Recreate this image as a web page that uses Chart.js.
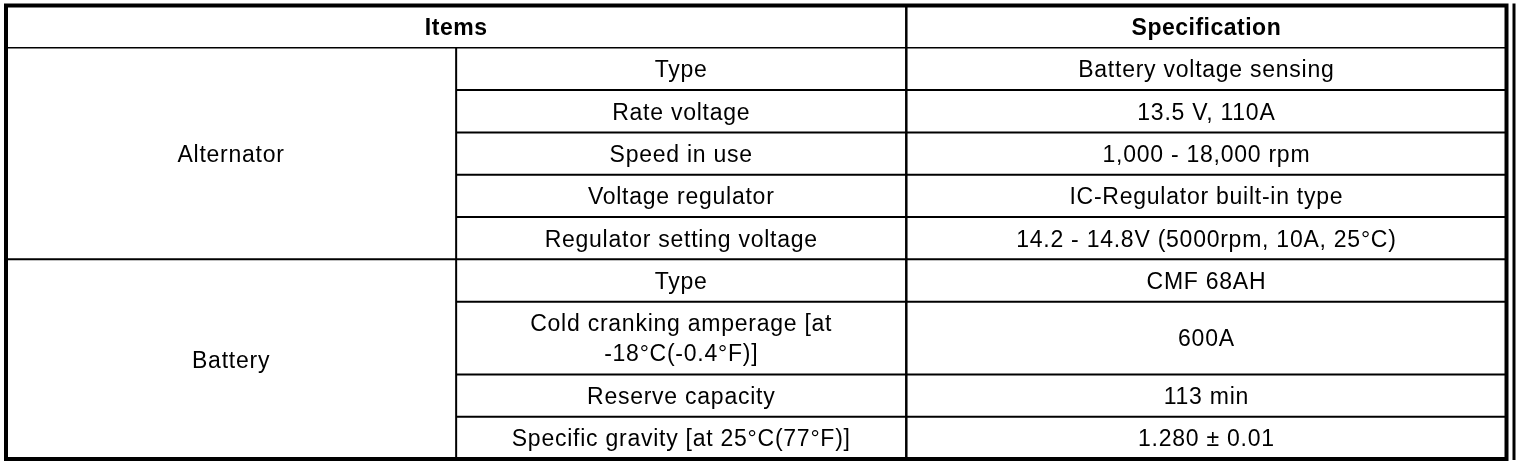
<!DOCTYPE html>
<html>
<head>
<meta charset="utf-8">
<script src="https://cdn.jsdelivr.net/npm/chart.js@4"></script>
<style>
  html, body { margin: 0; padding: 0; background: #fff; }
  canvas { display: block; }
</style>
</head>
<body>
<canvas id="specTable" width="1520" height="466"></canvas>
<script>
{
  // table contents
  const headers = ['Items', 'Specification'];
  const groups = ['Alternator', 'Battery'];
  const groupSizes = [5, 4];
  const items = [
    'Type',
    'Rate voltage',
    'Speed in use',
    'Voltage regulator',
    'Regulator setting voltage',
    'Type',
    ['Cold cranking amperage [at', '-18°C(-0.4°F)]'],
    'Reserve capacity',
    'Specific gravity [at 25°C(77°F)]'
  ];
  const specs = [
    'Battery voltage sensing',
    '13.5 V, 110A',
    '1,000 - 18,000 rpm',
    'IC-Regulator built-in type',
    '14.2 - 14.8V (5000rpm, 10A, 25°C)',
    'CMF 68AH',
    '600A',
    '113 min',
    '1.280 ± 0.01'
  ];

  // layout in table units: columns 3 : 3 : 4, one text line = 1 row unit
  const colEdges = [0, 3, 6, 10];
  const lineCount = (t) => Array.isArray(t) ? t.length : 1;
  const rowHeight = (t) => 1 + 0.72 * (lineCount(t) - 1);

  const rowEdges = [0, 1];
  items.forEach(t => rowEdges.push(rowEdges[rowEdges.length - 1] + rowHeight(t)));
  const total = rowEdges[rowEdges.length - 1];

  // one point per cell (centre), text drawn at the point's pixel position
  const cells = [];
  cells.push({ x: (colEdges[0] + colEdges[2]) / 2, y: 0.5, text: headers[0], bold: true });
  cells.push({ x: (colEdges[2] + colEdges[3]) / 2, y: 0.5, text: headers[1], bold: true });
  let start = 1;
  groups.forEach((g, gi) => {
    const end = start + groupSizes[gi];
    cells.push({ x: (colEdges[0] + colEdges[1]) / 2, y: (rowEdges[start] + rowEdges[end]) / 2, text: g });
    start = end;
  });
  items.forEach((t, i) => {
    const yc = (rowEdges[i + 1] + rowEdges[i + 2]) / 2;
    cells.push({ x: (colEdges[1] + colEdges[2]) / 2, y: yc, text: t });
    cells.push({ x: (colEdges[2] + colEdges[3]) / 2, y: yc, text: specs[i] });
  });

  const groupEnds = [];
  groupSizes.reduce((acc, n) => { groupEnds.push(acc + n); return acc + n; }, 1);

  const tablePlugin = {
    id: 'tablePlugin',
    afterDatasetsDraw(chart) {
      const ctx = chart.ctx;
      const xs = chart.scales.x;
      const ys = chart.scales.y;
      const px = (v) => xs.getPixelForValue(v);
      const py = (v) => ys.getPixelForValue(v);

      const line = (x0, y0, x1, y1, w) => {
        ctx.beginPath();
        ctx.lineWidth = w;
        ctx.moveTo(x0, y0);
        ctx.lineTo(x1, y1);
        ctx.stroke();
      };

      ctx.save();
      ctx.strokeStyle = '#000';
      ctx.lineCap = 'butt';

      // row separators
      line(px(colEdges[0]), py(1), px(colEdges[3]), py(1), 1.5);
      for (let r = 2; r < rowEdges.length - 1; r++) {
        const full = groupEnds.includes(r);
        line(px(full ? colEdges[0] : colEdges[1]), py(rowEdges[r]), px(colEdges[3]), py(rowEdges[r]), 2);
      }
      // column separators
      line(px(colEdges[1]), py(1), px(colEdges[1]), py(total), 2);
      line(px(colEdges[2]), py(0), px(colEdges[2]), py(total), 2.5);

      // outer frame
      ctx.lineWidth = 4;
      ctx.strokeRect(px(0), py(0), px(10) - px(0), py(total) - py(0));
      line(px(10) + 7.5, py(0) - 2, px(10) + 7.5, py(total) + 1, 3);

      // texts
      const meta = chart.getDatasetMeta(0);
      ctx.fillStyle = '#000';
      ctx.textAlign = 'center';
      ctx.textBaseline = 'middle';
      cells.forEach((c, i) => {
        const pt = meta.data[i];
        ctx.font = (c.bold ? 'bold ' : '') + '23px "Liberation Sans", Arial, sans-serif';
        ctx.letterSpacing = c.bold ? '0.5px' : '0.75px';
        const lines = Array.isArray(c.text) ? c.text : [c.text];
        const lh = 30;
        lines.forEach((s, li) => {
          const dy = (li - (lines.length - 1) / 2) * lh;
          ctx.fillText(s, pt.x, pt.y + dy + 2);
        });
      });
      ctx.restore();
    }
  };

  new Chart(document.getElementById('specTable'), {
    type: 'scatter',
    data: {
      datasets: [{
        data: cells.map(c => ({ x: c.x, y: c.y })),
        pointRadius: 0,
        pointHoverRadius: 0
      }]
    },
    options: {
      responsive: false,
      animation: false,
      events: [],
      layout: { padding: { left: 6, right: 13.5, top: 5.5, bottom: 7 } },
      plugins: { legend: { display: false }, tooltip: { enabled: false } },
      scales: {
        x: { type: 'linear', min: 0, max: 10, display: false },
        y: { type: 'linear', min: 0, max: total, reverse: true, display: false }
      }
    },
    plugins: [tablePlugin]
  });
}
</script>
</body>
</html>
